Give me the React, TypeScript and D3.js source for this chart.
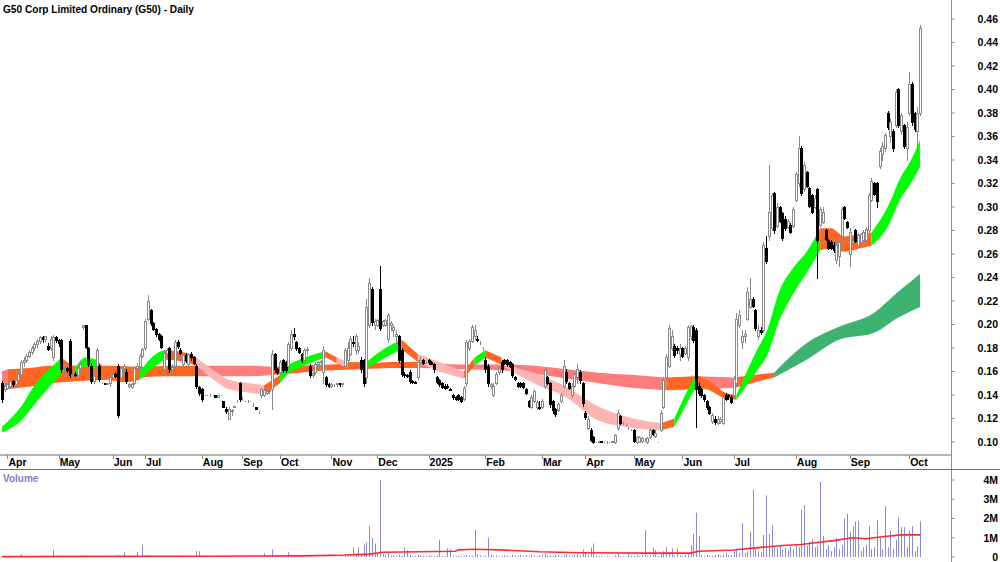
import React from "react";
import * as d3 from "d3";

const title = "G50 Corp Limited Ordinary (G50) - Daily";

// daily bars, thousandths of a dollar: [open, high, low, close]
const candles: number[][] = [
  [150,152,134,137],[145,150,143,148],[146,150,145,149],[148,153,146,152],[152,153,148,149],[149,154,148,153],[153,160,152,158],[158,170,157,168],[168,172,165,170],[170,175,168,173],
  [173,178,172,177],[177,182,175,180],[180,185,178,183],[183,188,181,186],[186,190,184,189],[189,190,185,188],[188,190,186,190],[182,184,178,179],[180,190,178,188],[172,191,170,189],
  [189,190,185,187],[187,188,182,184],[187,188,160,162],[162,165,158,163],[163,164,160,161],[186,188,155,157],[157,160,155,158],[158,160,156,157],[157,165,156,163],[163,168,160,166],
  [198,200,196,200],[200,200,180,181],[180,181,165,166],[165,167,150,152],[152,158,150,156],[165,180,164,178],[165,166,152,154],[150,150,150,150],[150,150,149,149],[149,150,149,150],
  [150,157,148,155],[155,160,153,158],[158,160,155,156],[165,166,121,123],[155,165,153,163],[163,166,160,165],[160,162,150,152],[148,150,147,149],[147,150,146,149],[150,165,149,163],
  [163,167,160,165],[165,175,163,173],[173,180,172,179],[180,205,178,203],[205,225,204,220],[212,213,200,201],[201,202,195,196],[196,197,190,192],[192,193,187,188],[190,191,180,181],
  [162,178,160,176],[176,180,172,178],[180,181,160,162],[162,166,160,164],[165,187,164,185],[185,187,180,182],[178,180,175,176],[166,175,165,174],[174,176,168,170],[166,176,165,175],
  [175,177,170,172],[172,173,166,167],[165,166,146,148],[147,148,140,142],[145,146,135,137],[140,140,140,140],[140,140,140,140],[140,141,139,140],[140,140,140,140],[140,140,138,138],
  [138,140,138,140],[140,140,140,140],[135,135,130,130],[128,130,125,126],[120,130,120,128],[126,128,123,127],[130,131,130,131],[135,136,134,135],[150,151,135,137],[137,138,136,137],
  [135,135,135,135],[135,136,134,135],[135,135,135,135],[132,133,131,132],[130,130,128,128],[125,126,125,125],[140,146,138,145],[140,146,139,144],[142,144,141,143],[143,145,142,144],
  [145,178,128,175],[175,176,160,162],[162,163,158,160],[160,170,158,168],[170,171,160,161],[168,169,160,161],[165,185,163,183],[180,195,178,192],[192,197,188,190],[185,186,178,180],
  [180,181,176,177],[175,176,168,170],[170,180,169,178],[178,181,175,179],[165,166,155,157],[157,160,155,159],[160,168,158,166],[166,169,164,168],[168,170,165,169],[160,182,150,178],
  [155,156,148,149],[149,150,147,148],[148,150,147,149],[148,149,148,148],[149,150,148,150],[150,150,148,149],[149,150,148,150],[165,180,163,178],[170,185,168,180],[175,190,174,188],
  [185,190,182,184],[178,192,175,190],[178,185,176,182],[170,172,160,162],[170,171,148,150],[155,222,150,215],[200,240,198,235],[230,232,200,202],[200,205,196,203],[200,205,199,204],
  [230,250,195,197],[200,204,199,203],[200,205,199,204],[188,210,185,208],[200,203,195,201],[195,200,190,198],[190,195,185,192],[190,191,168,170],[178,180,156,158],[158,160,155,157],
  [157,158,155,156],[160,161,150,152],[152,153,150,151],[151,152,150,150],[155,170,154,168],[168,172,166,170],[170,171,166,167],[168,169,167,168],[170,171,166,168],[168,169,166,166],
  [166,167,160,162],[155,156,150,151],[153,154,148,149],[150,151,146,147],[148,149,145,146],[148,149,146,147],[145,146,144,144],[140,141,137,138],[138,139,136,137],[140,141,136,137],
  [138,139,134,135],[137,148,136,146],[150,187,148,185],[180,188,178,186],[186,200,185,198],[190,200,188,195],[188,190,186,187],[185,186,183,185],[180,181,178,180],[170,172,160,162],
  [165,166,148,150],[148,150,146,149],[140,150,139,148],[150,160,149,158],[160,165,158,163],[168,170,160,162],[170,171,166,167],[170,171,165,166],[168,169,164,165],[166,167,155,157],
  [155,156,153,154],[150,151,147,148],[150,151,147,148],[150,151,146,147],[145,146,141,142],[135,136,130,131],[130,140,129,138],[135,145,134,143],[130,136,128,134],[130,135,128,129],
  [130,137,129,135],[148,163,146,161],[155,156,149,150],[150,151,130,132],[135,136,125,127],[128,129,122,124],[127,133,126,132],[135,142,134,140],[148,170,146,165],[160,162,150,152],
  [150,151,145,146],[140,150,138,148],[148,160,147,158],[155,166,150,162],[160,161,150,153],[150,151,131,133],[125,126,120,121],[112,122,111,120],[110,112,101,102],[104,105,99,100],
  [100,100,100,100],[100,101,100,101],[101,101,100,100],[100,100,100,100],[100,101,99,100],[100,100,100,100],[100,101,100,101],[100,107,99,106],[112,127,110,125],[122,123,115,116],
  [116,117,115,116],[115,116,114,115],[112,113,111,112],[110,111,110,110],[110,111,100,101],[100,105,99,104],[100,105,100,104],[101,104,100,103],[102,103,101,102],[100,104,99,103],
  [104,112,103,110],[110,111,106,107],[105,110,104,108],[100,100,100,100],[110,127,109,125],[130,155,129,153],[155,175,154,172],[165,200,164,197],[180,195,178,190],[182,183,172,174],
  [180,182,176,178],[175,183,170,180],[180,181,172,173],[176,182,175,180],[172,200,170,198],[190,200,188,199],[198,200,185,187],[195,197,113,145],[148,150,140,142],[145,146,138,140],
  [140,141,135,137],[135,136,128,130],[130,131,124,125],[118,125,116,123],[120,122,115,117],[116,122,115,120],[118,121,116,120],[116,140,115,138],[140,142,136,137],[140,141,137,139],
  [138,140,133,134],[140,156,139,154],[150,210,148,205],[200,212,198,208],[185,195,180,190],[190,195,185,192],[205,232,204,228],[215,240,214,222],[222,223,215,216],[212,213,195,197],
  [190,200,188,195],[195,198,192,194],[195,270,194,268],[265,275,252,254],[275,336,272,296],[282,312,280,310],[312,313,278,280],[284,303,283,300],[300,301,287,288],[295,296,272,274],
  [290,292,280,282],[283,290,282,288],[285,286,278,279],[284,300,283,298],[306,330,305,328],[320,360,318,350],[350,352,310,312],[315,338,314,336],[330,331,317,318],[316,317,300,301],
  [310,311,295,296],[300,310,299,308],[315,316,240,272],[285,300,284,298],[287,300,286,296],[280,281,272,273],[272,273,264,265],[270,272,264,265],[268,270,262,263],[255,270,252,268],
  [258,272,250,270],[275,300,272,298],[300,301,290,291],[287,288,282,283],[260,282,250,279],[270,275,265,272],[280,281,270,271],[268,278,266,276],[270,278,268,277],[272,280,271,279],
  [272,283,271,281],[280,312,279,310],[306,325,305,322],[320,321,310,311],[320,321,300,305],[335,350,333,348],[345,355,340,352],[350,363,348,361],[380,382,366,368],[360,375,355,372],
  [365,366,348,350],[370,400,368,398],[400,401,368,370],[365,380,362,378],[370,371,350,352],[350,372,340,368],[380,415,378,405],[405,406,370,372],[380,381,365,366],[365,385,335,380],
  [380,455,378,452],
];

// daily volume, thousands of shares
const volumes = [
  40,60,30,50,20,30,40,150,30,20, 60,40,30,20,50,30,20,40,60,350,
  30,40,80,20,30,60,20,40,30,50, 60,80,40,30,20,50,40,20,30,20,
  30,50,40,120,30,250,60,30,20,40, 250,60,650,90,120,60,40,50,30,40,
  60,30,40,20,50,60,30,20,40,30, 50,40,300,300,80,20,30,20,20,30,
  20,20,30,40,50,30,20,20,60,30, 20,20,30,20,30,40,80,200,60,40,
  400,80,40,60,30,50,250,120,60,40, 30,50,40,20,60,30,40,30,20,90,
  40,30,20,30,20,40,30,120,80,60, 500,200,500,150,650,750,1600,1000,700,200,
  4000,150,120,200,80,100,60,120,80,500, 350,100,60,40,120,80,60,40,80,60,
  40,80,900,60,50,450,400,60,40,50, 40,60,120,80,60,1400,150,80,40,60,
  1000,120,60,80,40,60,100,80,40,120, 60,80,120,40,100,60,120,80,40,100,
  150,180,80,100,60,120,100,60,120,150, 80,60,120,150,80,400,250,120,500,700,
  100,60,40,30,50,30,20,80,150,60, 40,30,150,80,60,120,50,100,1400,60,
  100,500,350,60,200,300,500,150,450,80, 450,80,60,120,200,600,1200,2300,1100,100,
  60,120,80,60,100,150,60,120,200,100, 80,300,350,200,1750,200,300,1300,3500,400,
  300,250,1150,3200,1200,1650,500,450,600,400, 500,350,550,400,600,500,2450,2700,600,800,
  900,500,600,3900,1100,400,600,300,500,1000, 400,600,2000,2250,1300,1600,1850,1850,300,500,
  600,1600,400,500,1900,1000,400,2650,500,1350, 400,900,2050,1550,1550,500,1350,1600,300,550,
  1850,
];

const monthLabels = ["Apr", "May", "Jun", "Jul", "Aug", "Sep", "Oct", "Nov", "Dec", "2025", "Feb", "Mar", "Apr", "May", "Jun", "Jul", "Aug", "Sep", "Oct"];
const monthStarts = [2, 21, 41, 53, 74, 89, 103, 122, 139, 158, 179, 200, 216, 234, 252, 271, 294, 314, 336];

const priceTicks = [0.1, 0.12, 0.14, 0.16, 0.18, 0.2, 0.22, 0.24, 0.26, 0.28, 0.3, 0.32, 0.34, 0.36, 0.38, 0.4, 0.42, 0.44, 0.46];
const volumeTicks = [0, 1, 2, 3, 4];
const volumeTickLabels = ["0", "1M", "2M", "3M", "4M"];

// volume average line (bar index, millions)
const volAvgIdx = [0, 36, 73, 110, 127, 136, 141, 168, 169, 175, 184, 199, 214, 240, 255, 258, 271, 277, 283, 289, 296, 302, 308, 315, 320, 326, 333, 340];
const volAvgVal = [0.02, 0.03, 0.04, 0.06, 0.1, 0.15, 0.25, 0.3, 0.37, 0.4, 0.37, 0.27, 0.22, 0.2, 0.2, 0.3, 0.36, 0.45, 0.52, 0.6, 0.65, 0.75, 0.85, 1.0, 0.95, 1.05, 1.15, 1.15];

// short-term ribbon (upper/lower edge), state of the segment that starts at each point
const shortIdx = [0, 7, 12, 18, 22, 27, 31, 35, 40, 46, 51, 57, 60, 66, 72, 79, 84, 92, 97, 103, 106, 110, 116, 120, 124, 128, 135, 142, 148, 154, 162, 171, 175, 179, 185, 189, 197, 209, 221, 234, 244, 249, 253, 257, 262, 268, 272, 280, 283, 288, 293, 298, 303, 307, 312, 318, 322, 328, 333, 336, 340];
const shortHi = [0.113, 0.13, 0.148, 0.163, 0.172, 0.163, 0.172, 0.17, 0.16, 0.157, 0.16, 0.175, 0.178, 0.177, 0.172, 0.16, 0.153, 0.15, 0.148, 0.157, 0.165, 0.17, 0.175, 0.177, 0.172, 0.168, 0.168, 0.18, 0.187, 0.175, 0.168, 0.16, 0.172, 0.178, 0.172, 0.165, 0.159, 0.147, 0.13, 0.12, 0.116, 0.12, 0.14, 0.157, 0.152, 0.142, 0.14, 0.18, 0.193, 0.229, 0.248, 0.262, 0.282, 0.282, 0.275, 0.277, 0.278, 0.3, 0.326, 0.337, 0.357];
const shortLo = [0.108, 0.118, 0.132, 0.148, 0.158, 0.156, 0.164, 0.162, 0.153, 0.151, 0.153, 0.165, 0.17, 0.169, 0.165, 0.152, 0.145, 0.142, 0.14, 0.15, 0.158, 0.163, 0.169, 0.172, 0.167, 0.163, 0.163, 0.172, 0.179, 0.168, 0.16, 0.154, 0.165, 0.172, 0.166, 0.16, 0.15, 0.138, 0.118, 0.112, 0.11, 0.113, 0.13, 0.147, 0.144, 0.137, 0.136, 0.162, 0.172, 0.204, 0.226, 0.244, 0.263, 0.265, 0.262, 0.265, 0.267, 0.283, 0.308, 0.318, 0.334];
const shortState = ["up", "up", "up", "up", "mix", "up", "up", "mix", "mix", "mix", "up", "up", "mix", "mix", "down", "down", "down", "down", "mix", "up", "up", "up", "up", "mix", "down", "mix", "up", "up", "mix", "down", "down", "mix", "up", "mix", "down", "down", "down", "down", "down", "down", "mix", "up", "up", "mix", "mix", "mix", "up", "up", "up", "up", "up", "up", "mix", "mix", "mix", "mix", "up", "up", "up", "up", "up"];

// long-term ribbon
const longIdx = [0, 2, 10, 18, 29, 40, 51, 62, 72, 81, 92, 100, 110, 122, 133, 147, 155, 170, 185, 197, 209, 221, 234, 246, 257, 271, 286, 298, 310, 323, 332, 340];
const longHi = [0.16, 0.162, 0.163, 0.165, 0.165, 0.165, 0.164, 0.165, 0.165, 0.165, 0.165, 0.164, 0.165, 0.166, 0.167, 0.168, 0.168, 0.166, 0.166, 0.165, 0.162, 0.159, 0.157, 0.155, 0.156, 0.155, 0.159, 0.184, 0.198, 0.21, 0.228, 0.243];
const longLo = [0.143, 0.145, 0.147, 0.15, 0.152, 0.153, 0.155, 0.156, 0.156, 0.156, 0.156, 0.157, 0.159, 0.161, 0.162, 0.163, 0.163, 0.162, 0.161, 0.158, 0.154, 0.15, 0.146, 0.144, 0.145, 0.146, 0.155, 0.17, 0.187, 0.193, 0.206, 0.215];
const longState = ["down", "mix", "mix", "mix", "mix", "mix", "mix", "mix", "down", "down", "down", "mix", "mix", "mix", "mix", "mix", "down", "down", "down", "down", "down", "down", "down", "mix", "down", "mix", "up", "up", "up", "up", "up", "up"];

const shortColors: Record<string, string> = { up: "#00ff00", mix: "#ff6624", down: "#ffb4b4" };
const longColors: Record<string, string> = { up: "#3cb371", mix: "#ff6624", down: "#ff7c7c" };

const axisX = 951.5;
const x = d3.scaleLinear().domain([0, 340]).range([2, 920]);
const y = d3.scaleLinear().domain([0.1, 0.46]).range([442, 19]);
const yv = d3.scaleLinear().domain([0, 4]).range([557, 480]);

type Pt = { i: number; hi: number; lo: number };

function ribbonRuns(idx: number[], hi: number[], lo: number[], state: string[]) {
  const runs: { state: string; pts: Pt[] }[] = [];
  let start = 0;
  for (let k = 1; k < idx.length; k++) {
    if (k === idx.length - 1 || state[k] !== state[start]) {
      const pts = d3.range(start, k + 1).map((j) => ({ i: idx[j], hi: hi[j], lo: lo[j] }));
      runs.push({ state: state[start], pts });
      start = k;
    }
  }
  return runs;
}

const ribbonArea = d3
  .area<Pt>()
  .x((d) => x(d.i))
  .y0((d) => y(d.lo))
  .y1((d) => y(d.hi))
  .curve(d3.curveMonotoneX);

const volLine = d3
  .line<number>()
  .x((d, k) => x(volAvgIdx[k]))
  .y((d) => yv(d));

export default function App() {
  const longRuns = ribbonRuns(longIdx, longHi, longLo, longState);
  const shortRuns = ribbonRuns(shortIdx, shortHi, shortLo, shortState);
  const bold = { fontWeight: 700 };

  return (
    <svg
      width={1000}
      height={562}
      style={{ position: "absolute", left: 0, top: 0, background: "#fff" }}
      fontFamily="'Liberation Sans', Arial, sans-serif"
    >
      <text x={3} y={12.5} fontSize={10.8} style={bold} textLength={191} lengthAdjust="spacingAndGlyphs">
        {title}
      </text>

      {/* ribbons */}
      {longRuns.map((r, k) => (
        <path key={"l" + k} d={ribbonArea(r.pts) || ""} fill={longColors[r.state]} />
      ))}
      {shortRuns.map((r, k) => (
        <path key={"s" + k} d={ribbonArea(r.pts) || ""} fill={shortColors[r.state]} />
      ))}

      {/* candles, snapped to whole pixels */}
      {candles.map(([o, h, l, c], i) => {
        const px = Math.round(x(i));
        const up = c >= o;
        const col = up ? "#8a8a8a" : "#000";
        const top = Math.round(y(Math.max(o, c) / 1000)) + 0.5;
        const bot = Math.round(y(Math.min(o, c) / 1000)) + 0.5;
        return (
          <g key={i}>
            <line
              x1={px + 0.5}
              x2={px + 0.5}
              y1={Math.round(y(h / 1000))}
              y2={Math.round(y(l / 1000)) + 1}
              stroke={col}
              strokeWidth={1}
            />
            <rect
              x={px - 0.5}
              y={top}
              width={2}
              height={Math.max(bot - top, 0)}
              fill={up ? "#fff" : "#000"}
              stroke={col}
              strokeWidth={1}
              shapeRendering="crispEdges"
            />
          </g>
        );
      })}

      {/* price axis */}
      <line x1={axisX} x2={axisX} y1={0} y2={562} stroke="#8c8c8c" strokeWidth={1} />
      {priceTicks.map((p) => (
        <g key={p}>
          <line x1={axisX} x2={axisX + 3} y1={y(p)} y2={y(p)} stroke="#8c8c8c" />
          <text x={998} y={y(p) + 3.8} fontSize={10.5} textAnchor="end" style={bold}>
            {d3.format(".2f")(p)}
          </text>
        </g>
      ))}

      {/* date strip */}
      <line x1={0} x2={axisX} y1={455} y2={455} stroke="#9a9a9a" strokeWidth={1.5} />
      <line x1={0} x2={1000} y1={469.5} y2={469.5} stroke="#6e6e6e" strokeWidth={1} />
      {monthStarts.map((m, k) => (
        <g key={k}>
          <line x1={Math.round(x(m)) + 0.5} x2={Math.round(x(m)) + 0.5} y1={455} y2={459} stroke="#8c8c8c" />
          <text x={x(m) + 1} y={466} fontSize={10.5} style={bold}>
            {monthLabels[k]}
          </text>
        </g>
      ))}

      {/* volume panel */}
      <text x={3} y={482} fontSize={10} fill="#8080c8" style={bold}>
        Volume
      </text>
      {volumes.map((v, i) => (
        <line
          key={i}
          x1={Math.round(x(i)) + 0.5}
          x2={Math.round(x(i)) + 0.5}
          y1={yv(0)}
          y2={yv(v / 1000)}
          stroke="#8a8ad6"
          strokeWidth={1}
        />
      ))}
      <path d={volLine(volAvgVal) || ""} fill="none" stroke="#ff2a2a" strokeWidth={1.6} />
      {volumeTicks.map((t, k) => (
        <g key={t}>
          <line x1={axisX} x2={axisX + 3} y1={yv(t)} y2={yv(t)} stroke="#8c8c8c" />
          <text x={998} y={yv(t) + 3.8} fontSize={10.5} textAnchor="end" style={bold}>
            {volumeTickLabels[k]}
          </text>
        </g>
      ))}
    </svg>
  );
}
